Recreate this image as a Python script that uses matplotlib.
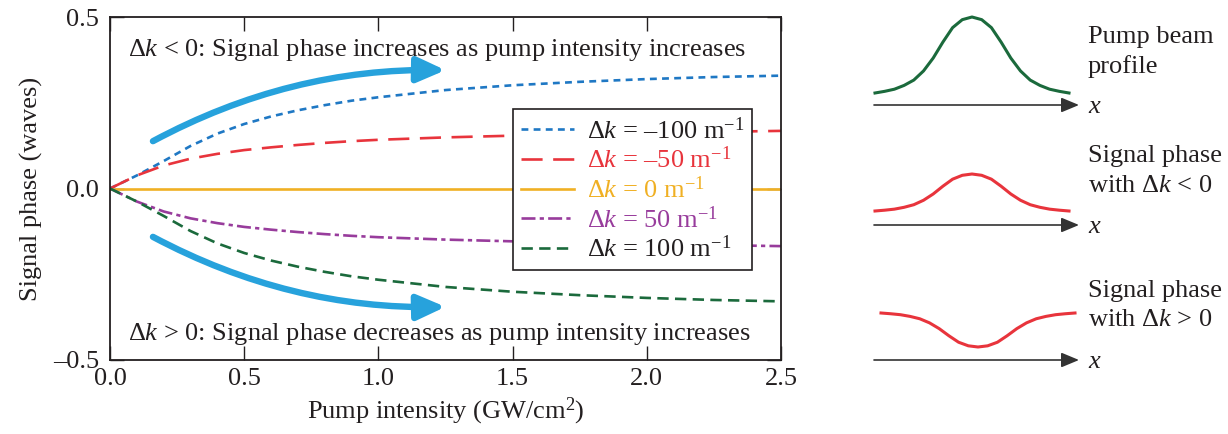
import matplotlib.pyplot as plt
import numpy as np
from matplotlib.patches import FancyArrowPatch

plt.rcParams['font.family'] = ['Liberation Serif', 'DejaVu Serif']
plt.rcParams['mathtext.fontset'] = 'custom'
plt.rcParams['mathtext.rm'] = 'Liberation Serif'
plt.rcParams['mathtext.it'] = 'Liberation Serif:italic'

# %% data
intensity = [0, 0.1, 0.2, 0.3, 0.4, 0.5, 0.6, 0.7, 0.8, 0.9, 1.0,
             1.25, 1.5, 1.75, 2.0, 2.25, 2.5]
phase_m100 = [0, 0.038, 0.080, 0.124, 0.160, 0.188, 0.210, 0.228, 0.243, 0.256, 0.266,
              0.287, 0.301, 0.311, 0.319, 0.325, 0.329]
phase_m50 = [0, 0.038, 0.067, 0.087, 0.101, 0.112, 0.120, 0.127, 0.133, 0.138, 0.142,
             0.149, 0.154, 0.158, 0.162, 0.165, 0.168]
phase_0 = [0] * len(intensity)
phase_p50 = [0, -0.038, -0.067, -0.087, -0.101, -0.112, -0.120, -0.127, -0.133, -0.138, -0.142,
             -0.149, -0.154, -0.158, -0.162, -0.165, -0.168]
phase_p100 = [0, -0.038, -0.080, -0.124, -0.160, -0.188, -0.210, -0.228, -0.243, -0.256, -0.266,
              -0.287, -0.301, -0.311, -0.319, -0.325, -0.329]

labels = [r'$\Delta k$ = –100 m$^{-1}$', r'$\Delta k$ = –50 m$^{-1}$',
          r'$\Delta k$ = 0 m$^{-1}$', r'$\Delta k$ = 50 m$^{-1}$',
          r'$\Delta k$ = 100 m$^{-1}$']
colors = ['#1f78c4', '#e8343c', '#f0b024', '#983c9c', '#1b6a3c']
text_colors = ['#231f20', '#e8343c', '#f0b024', '#983c9c', '#231f20']
styles = [(0, (2.6, 2.0)), (0, (8, 4)), '-', (0, (5.3, 1.6, 1.6, 1.6)), (0, (4.3, 2.4))]

# schematic beam profile (normalised height vs normalised position)
profile_t = [-1.0, -0.9, -0.8, -0.7, -0.6, -0.5, -0.4, -0.3, -0.2, -0.1, 0.0,
             0.1, 0.2, 0.3, 0.4, 0.5, 0.6, 0.7, 0.8, 0.9, 1.0]
profile_h = [0.0, 0.022, 0.05, 0.10, 0.17, 0.29, 0.46, 0.67, 0.86, 0.965, 1.0,
             0.965, 0.86, 0.67, 0.46, 0.29, 0.17, 0.10, 0.05, 0.022, 0.0]

fig = plt.figure(figsize=(12.28, 4.34), dpi=100)
ax = fig.add_axes([110/1228, 74/434, 671/1228, 343/434])

series = [phase_m100, phase_m50, phase_0, phase_p50, phase_p100]
for vals, c, ls, lab in zip(series, colors, styles, labels):
    ax.plot(intensity, vals, color=c, linestyle=ls, lw=1.9, label=lab,
            dash_capstyle='butt')

ax.set_xlim(0, 2.5)
ax.set_ylim(-0.5, 0.5)
ax.set_xticks([0, 0.5, 1.0, 1.5, 2.0, 2.5])
ax.set_xticklabels(['0.0', '0.5', '1.0', '1.5', '2.0', '2.5'])
ax.set_yticks([-0.5, 0, 0.5])
ax.set_yticklabels(['–0.5', '0.0', '0.5'])
ax.tick_params(direction='in', length=10, width=1, top=True, right=True,
               labelsize=19, colors='#231f20', pad=6)
ax.tick_params(axis='y', pad=8)
for s in ax.spines.values():
    s.set_linewidth(1.3)
    s.set_color('#231f20')
ax.set_xlabel('Pump intensity (GW/cm$^2$)', fontsize=19, color='#231f20', labelpad=4)
ax.set_ylabel('Signal phase (waves)', fontsize=19, color='#231f20', labelpad=7)

leg = ax.legend(loc='upper left', bbox_to_anchor=(0.6006, 0.7318), borderaxespad=0,
                fontsize=19, handlelength=2.0, handletextpad=0.5, labelspacing=0.12,
                borderpad=0.3, fancybox=False, framealpha=1, edgecolor='#231f20')
leg.get_frame().set_linewidth(1.2)
for t, c in zip(leg.get_texts(), text_colors):
    t.set_color(c)

ax.text(0.067, 0.386, r'$\Delta k$ < 0: Signal phase increases as pump intensity increases',
        fontsize=19, color='#231f20', va='baseline')
ax.text(0.067, -0.442, r'$\Delta k$ > 0: Signal phase decreases as pump intensity increases',
        fontsize=19, color='#231f20', va='baseline')

arrow_kw = dict(arrowstyle='-|>,head_length=0.85,head_width=0.38', mutation_scale=20,
                lw=4.6, color='#27a2dc', shrinkA=0, shrinkB=0)
ax.add_patch(FancyArrowPatch((0.16, 0.138), (1.25, 0.345),
                             connectionstyle='arc3,rad=-0.13', **arrow_kw))
ax.add_patch(FancyArrowPatch((0.16, -0.141), (1.25, -0.345),
                             connectionstyle='arc3,rad=0.13', **arrow_kw))

# %% right-hand schematic, in pixel coordinates
ax2 = fig.add_axes([860/1228, 0, 368/1228, 1])
ax2.set_xlim(860, 1228)
ax2.set_ylim(434, 0)
ax2.axis('off')

t = np.array(profile_t)
h = np.array(profile_h)
ax2.plot(972 + 97*t, 93 - 76*h, color='#1b6a3c', lw=2.2, solid_joinstyle='round')
ax2.plot(972 + 97*t, 211 - 37*h, color='#e8343c', lw=2.2, solid_joinstyle='round')
ax2.plot(978 + 97*t, 313 + 34*h, color='#e8343c', lw=2.2, solid_joinstyle='round')

for yy in [105, 225, 360]:
    ax2.annotate('', xy=(1079, yy), xytext=(874, yy),
                 arrowprops=dict(arrowstyle='-|>,head_length=0.6,head_width=0.25',
                                 color='#333333', lw=1.2, mutation_scale=18,
                                 shrinkA=0, shrinkB=0))
    ax2.text(1088, yy + 8, 'x', fontsize=19, style='italic', color='#231f20',
             va='baseline')

tkw = dict(fontsize=19, color='#231f20', va='baseline')
ax2.text(1088, 43, 'Pump beam', **tkw)
ax2.text(1088, 73, 'profile', **tkw)
ax2.text(1088, 162, 'Signal phase', **tkw)
ax2.text(1088, 192, r'with $\Delta k$ < 0', **tkw)
ax2.text(1088, 297, 'Signal phase', **tkw)
ax2.text(1088, 326, r'with $\Delta k$ > 0', **tkw)

fig.savefig('out.png', dpi=100)
